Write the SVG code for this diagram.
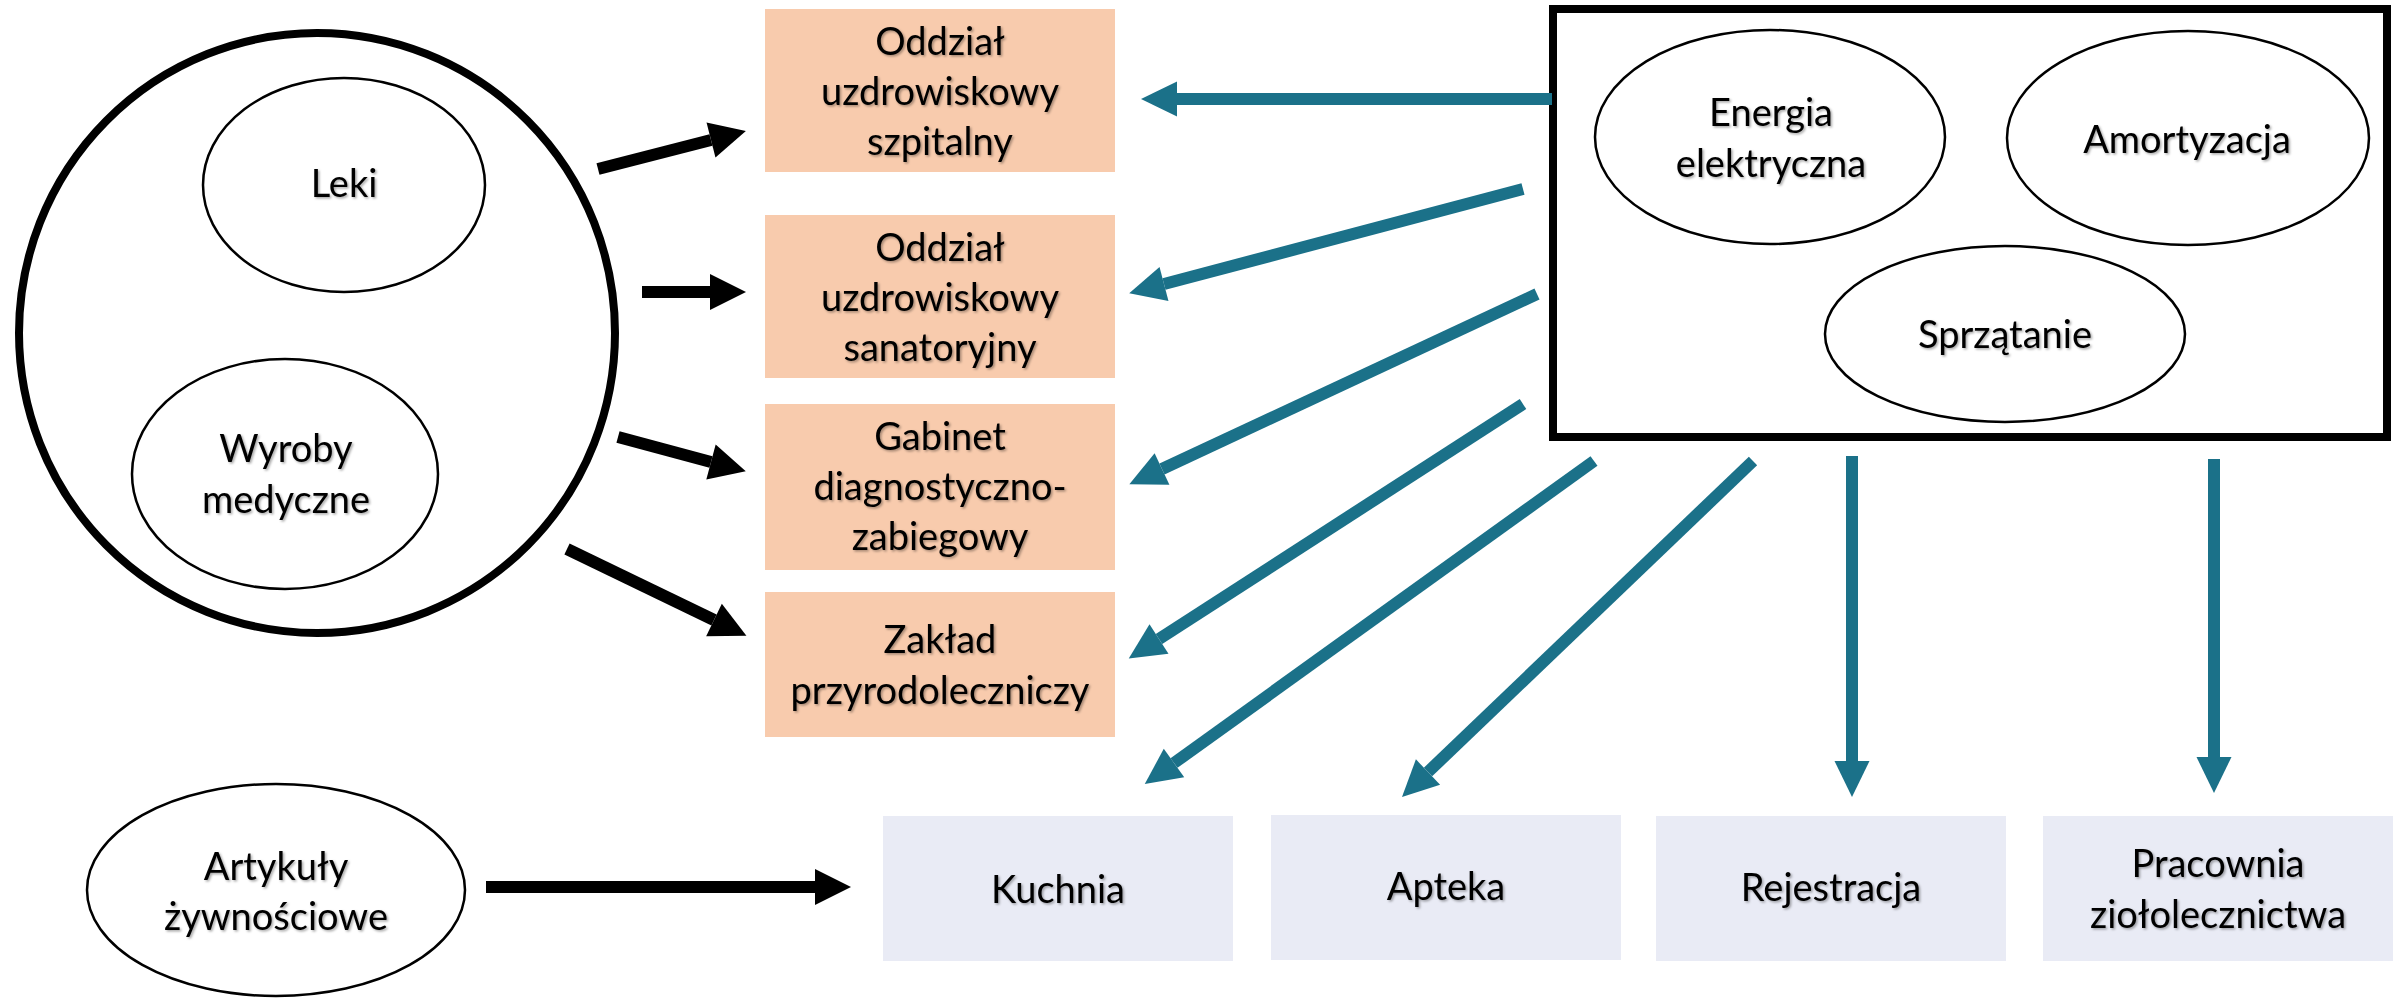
<svg xmlns="http://www.w3.org/2000/svg" width="2403" height="998" viewBox="0 0 2403 998">
  <style>
    .lbl { font-family: Lato, "Open Sans", "Liberation Sans", sans-serif; font-size: 38px; fill: #000; text-anchor: middle; filter: url(#shadow); }
    .ell { fill: #fff; stroke: #000; stroke-width: 2.5; }
    .unit { fill: #F8CBAD; }
    .svc { fill: #E9EBF5; }
    .teal { stroke: #1B7189; stroke-width: 12; fill: none; marker-end: url(#headTeal); }
    .blk { stroke: #000; stroke-width: 12; fill: none; marker-end: url(#headBlack); }
  </style>
  <defs>
    <filter id="shadow" x="-10%" y="-20%" width="130%" height="150%">
      <feDropShadow dx="1.5" dy="1.5" stdDeviation="1" flood-color="#000" flood-opacity="0.35"/>
    </filter>
    <marker id="headTeal" markerUnits="userSpaceOnUse" markerWidth="36" markerHeight="35" refX="0" refY="17.5" orient="auto" overflow="visible">
      <path d="M0,0 L36,17.5 L0,35 Z" fill="#1B7189"/>
    </marker>
    <marker id="headBlack" markerUnits="userSpaceOnUse" markerWidth="36" markerHeight="36" refX="0" refY="18" orient="auto" overflow="visible">
      <path d="M0,0 L36,18 L0,36 Z" fill="#000"/>
    </marker>
  </defs>

  <rect width="2403" height="998" fill="#fff"/>

  <!-- supplies: medicines and medical devices -->
  <g id="supplies">
    <ellipse cx="317" cy="333" rx="298" ry="300" fill="#fff" stroke="#000" stroke-width="8"/>
  </g>
  <g id="leki">
    <ellipse class="ell" cx="344" cy="185" rx="141" ry="107"/>
    <text class="lbl" x="344" y="197">Leki</text>
  </g>
  <g id="wyroby">
    <ellipse class="ell" cx="285" cy="474" rx="153" ry="115"/>
    <text class="lbl" x="286" y="462">Wyroby</text>
    <text class="lbl" x="286" y="513">medyczne</text>
  </g>

  <!-- overhead costs -->
  <g id="overheads">
    <rect x="1553" y="9" width="834" height="428" fill="#fff" stroke="#000" stroke-width="8"/>
  </g>
  <g id="energia">
    <ellipse class="ell" cx="1770" cy="137" rx="175" ry="107"/>
    <text class="lbl" x="1771" y="126">Energia</text>
    <text class="lbl" x="1771" y="177">elektryczna</text>
  </g>
  <g id="amortyzacja">
    <ellipse class="ell" cx="2188" cy="138" rx="181" ry="107"/>
    <text class="lbl" x="2187" y="153">Amortyzacja</text>
  </g>
  <g id="sprzatanie">
    <ellipse class="ell" cx="2005" cy="334" rx="180" ry="88"/>
    <text class="lbl" x="2005" y="348">Sprzątanie</text>
  </g>

  <!-- treatment units -->
  <g id="szpitalny">
    <rect class="unit" x="765" y="9" width="350" height="163"/>
    <text class="lbl" x="940" y="55">Oddział</text>
    <text class="lbl" x="940" y="105">uzdrowiskowy</text>
    <text class="lbl" x="940" y="155">szpitalny</text>
  </g>
  <g id="sanatoryjny">
    <rect class="unit" x="765" y="215" width="350" height="163"/>
    <text class="lbl" x="940" y="261">Oddział</text>
    <text class="lbl" x="940" y="311">uzdrowiskowy</text>
    <text class="lbl" x="940" y="361">sanatoryjny</text>
  </g>
  <g id="gabinet">
    <rect class="unit" x="765" y="404" width="350" height="166"/>
    <text class="lbl" x="940" y="450">Gabinet</text>
    <text class="lbl" x="940" y="500">diagnostyczno-</text>
    <text class="lbl" x="940" y="550">zabiegowy</text>
  </g>
  <g id="zaklad">
    <rect class="unit" x="765" y="592" width="350" height="145"/>
    <text class="lbl" x="940" y="653">Zakład</text>
    <text class="lbl" x="940" y="704">przyrodoleczniczy</text>
  </g>

  <!-- auxiliary services -->
  <g id="artykuly">
    <ellipse class="ell" cx="276" cy="890" rx="189" ry="106"/>
    <text class="lbl" x="276" y="880">Artykuły</text>
    <text class="lbl" x="276" y="930">żywnościowe</text>
  </g>
  <g id="kuchnia">
    <rect class="svc" x="883" y="816" width="350" height="145"/>
    <text class="lbl" x="1058" y="903">Kuchnia</text>
  </g>
  <g id="apteka">
    <rect class="svc" x="1271" y="815" width="350" height="145"/>
    <text class="lbl" x="1446" y="900">Apteka</text>
  </g>
  <g id="rejestracja">
    <rect class="svc" x="1656" y="816" width="350" height="145"/>
    <text class="lbl" x="1831" y="901">Rejestracja</text>
  </g>
  <g id="pracownia">
    <rect class="svc" x="2043" y="816" width="350" height="145"/>
    <text class="lbl" x="2218" y="877">Pracownia</text>
    <text class="lbl" x="2218" y="928">ziołolecznictwa</text>
  </g>

  <!-- connectors -->
  <g id="connectors">
    <line class="blk" x1="598" y1="169" x2="711" y2="140"/>
    <line class="blk" x1="642" y1="292" x2="710" y2="292"/>
    <line class="blk" x1="618" y1="437" x2="711" y2="462"/>
    <line class="blk" x1="567" y1="549" x2="714" y2="620"/>
    <line class="blk" x1="486" y1="887" x2="815" y2="887"/>

    <line class="teal" x1="1552" y1="99" x2="1177" y2="99"/>
    <line class="teal" x1="1523" y1="189" x2="1164" y2="284"/>
    <line class="teal" x1="1537" y1="294" x2="1162" y2="469"/>
    <line class="teal" x1="1523" y1="404" x2="1159" y2="639"/>
    <line class="teal" x1="1594" y1="461" x2="1174" y2="763"/>
    <line class="teal" x1="1753" y1="461" x2="1428" y2="772"/>
    <line class="teal" x1="1852" y1="456" x2="1852" y2="761"/>
    <line class="teal" x1="2214" y1="459" x2="2214" y2="757"/>
  </g>
</svg>
